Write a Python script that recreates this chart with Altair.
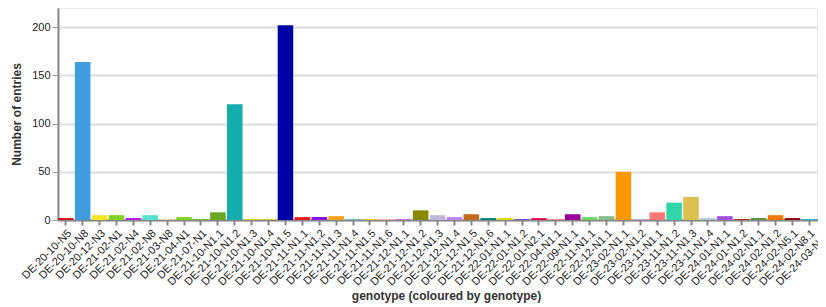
import altair as alt
import pandas as pd

genotypes = [
    "DE-20-10-N5", "DE-20-10-N8", "DE-20-12-N3", "DE-21-02-N1", "DE-21-02-N4",
    "DE-21-02-N8", "DE-21-03-N8", "DE-21-04-N1", "DE-21-07-N1", "DE-21-10-N1.1",
    "DE-21-10-N1.2", "DE-21-10-N1.3", "DE-21-10-N1.4", "DE-21-10-N1.5", "DE-21-11-N1.1",
    "DE-21-11-N1.2", "DE-21-11-N1.3", "DE-21-11-N1.4", "DE-21-11-N1.5", "DE-21-11-N1.6",
    "DE-21-12-N1.1", "DE-21-12-N1.2", "DE-21-12-N1.3", "DE-21-12-N1.4", "DE-21-12-N1.5",
    "DE-21-12-N1.6", "DE-22-01-N1.1", "DE-22-01-N1.2", "DE-22-01-N2.1", "DE-22-04-N1.1",
    "DE-22-09-N1.1", "DE-22-11-N1.1", "DE-22-12-N1.1", "DE-23-02-N1.1", "DE-23-02-N1.2",
    "DE-23-11-N1.1", "DE-23-11-N1.2", "DE-23-11-N1.3", "DE-23-11-N1.4", "DE-24-01-N1.1",
    "DE-24-01-N1.2", "DE-24-02-N1.1", "DE-24-02-N1.2", "DE-24-02-N5.1", "DE-24-02-N8.1",
    "DE-24-03-N1.1",
]

counts = [
    2, 164, 5, 5, 2,
    5, 1, 3, 1, 8,
    120, 1, 1, 202, 3,
    3, 4, 1, 1, 1,
    1, 10, 5, 3, 6,
    2, 2, 1, 2, 1,
    6, 3, 4, 50, 1,
    8, 18, 24, 2, 4,
    1, 2, 5, 2, 1,
    1,
]

colors = [
    "#d0141c", "#3f9ddf", "#f5e51c", "#7fd11f", "#b517e0",
    "#55e0d0", "#f5c8a0", "#80d020", "#6cc020", "#68a820",
    "#14acac", "#e0d020", "#e0d020", "#0000a8", "#e41a1c",
    "#8c14e8", "#f5a31a", "#6ac0cc", "#e8cc20", "#f0b0a8",
    "#d060e0", "#888800", "#bdb8d8", "#c080f8", "#c46a20",
    "#008880", "#e0d800", "#6a50d0", "#dc1450", "#f08080",
    "#980098", "#66dd66", "#88bb88", "#f99800", "#c0a0e0",
    "#ff7777", "#30d5aa", "#dcc050", "#b0ccd4", "#a050e0",
    "#b03020", "#5a9040", "#f07800", "#8b0a0a", "#20bce8",
    "#e02010",
]

df = pd.DataFrame({"genotype": genotypes, "count": counts})

chart = (
    alt.Chart(df)
    .mark_bar()
    .encode(
        x=alt.X(
            "genotype:N",
            title="genotype (coloured by genotype)",
            sort=genotypes,
            scale=alt.Scale(domain=genotypes, range=[0, 776], paddingInner=0.08, paddingOuter=0),
            axis=alt.Axis(
                labelAngle=-45,
                labelFontSize=11,
                labelColor="#222",
                labelPadding=2,
                tickSize=5,
                tickWidth=2,
                tickColor="#888",
                domainColor="#888",
                domainWidth=2,
                grid=False,
                titleFontSize=12,
                titleFontWeight="bold",
                titleColor="#333",
                titleY=70,
                titleBaseline="top",
                labelOverlap=False,
            ),
        ),
        y=alt.Y(
            "count:Q",
            title="Number of entries",
            scale=alt.Scale(domain=[0, 220], nice=False),
            axis=alt.Axis(
                values=[0, 50, 100, 150, 200],
                labelFontSize=11,
                labelColor="#222",
                labelPadding=2,
                tickSize=6,
                tickWidth=1,
                tickColor="#999",
                domainColor="#888",
                domainWidth=2,
                gridColor="#dddddd",
                gridWidth=2,
                titleFontSize=12,
                titleFontWeight="bold",
                titleColor="#333",
                titlePadding=8,
            ),
        ),
        color=alt.Color(
            "genotype:N",
            scale=alt.Scale(domain=genotypes, range=colors),
            legend=None,
        ),
    )
    .properties(
        width=760,
        height=212,
        autosize=alt.AutoSizeParams(type="none"),
        padding={"left": 50, "top": 0, "right": 0, "bottom": 87},
    )
    .configure(font="Liberation Sans")
    .configure_view(stroke="#e8e8e8", strokeWidth=2)
)

chart.save("out.html", embed_options={"renderer": "svg", "actions": False})
